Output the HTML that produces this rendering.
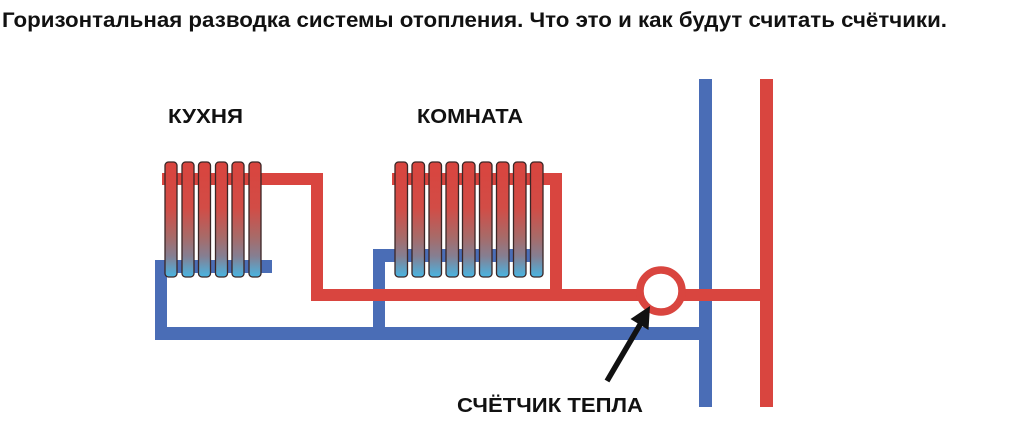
<!DOCTYPE html>
<html>
<head>
<meta charset="utf-8">
<style>
html,body{margin:0;padding:0;background:#fff;}
body{width:1024px;height:427px;overflow:hidden;}
svg{display:block;}
</style>
</head>
<body>
<svg width="1024" height="427" viewBox="0 0 1024 427" xmlns="http://www.w3.org/2000/svg">
<defs>
<linearGradient id="g" x1="0" y1="0" x2="0" y2="1">
<stop offset="0" stop-color="#d9443e"/>
<stop offset="0.4" stop-color="#d24c46"/>
<stop offset="0.65" stop-color="#a86a68"/>
<stop offset="0.82" stop-color="#857f92"/>
<stop offset="1" stop-color="#49b5e2"/>
</linearGradient>
</defs>
<text x="2" y="27" font-family="'Liberation Sans','Noto Sans CJK SC',sans-serif" font-weight="bold" font-size="21" fill="#111" textLength="945" lengthAdjust="spacingAndGlyphs">Горизонтальная разводка системы отопления. Что это и как будут считать счётчики.</text>

<!-- blue pipes -->
<g fill="#4a6db6">
<rect x="155" y="260" width="117" height="13"/>
<rect x="155" y="260" width="12" height="80"/>
<rect x="155" y="327" width="557" height="13"/>
<rect x="373" y="249" width="12" height="91"/>
<rect x="373" y="249" width="170" height="13"/>
<rect x="699" y="79" width="13" height="328"/>
</g>
<!-- red pipes -->
<g fill="#d9453f">
<rect x="162" y="173" width="161" height="12"/>
<rect x="311" y="173" width="12" height="128"/>
<rect x="311" y="289" width="462" height="12"/>
<rect x="392" y="173" width="170" height="12"/>
<rect x="550" y="173" width="12" height="128"/>
<rect x="760" y="79" width="13" height="328"/>
</g>
<circle cx="661" cy="291" r="21" fill="#fff" stroke="#d9453f" stroke-width="7.5"/>

<!-- kitchen radiator -->
<g fill="url(#g)" stroke="#3b2626" stroke-width="1.3">
<rect x="165" y="162" width="12" height="115" rx="3.5"/>
<rect x="182" y="162" width="12" height="115" rx="3.5"/>
<rect x="198.5" y="162" width="12" height="115" rx="3.5"/>
<rect x="215.5" y="162" width="12" height="115" rx="3.5"/>
<rect x="232" y="162" width="12" height="115" rx="3.5"/>
<rect x="249" y="162" width="12" height="115" rx="3.5"/>
</g>
<!-- room radiator -->
<g fill="url(#g)" stroke="#3b2626" stroke-width="1.3">
<rect x="395" y="162" width="12.5" height="115" rx="3.5"/>
<rect x="412" y="162" width="12.5" height="115" rx="3.5"/>
<rect x="429" y="162" width="12.5" height="115" rx="3.5"/>
<rect x="446" y="162" width="12.5" height="115" rx="3.5"/>
<rect x="462.5" y="162" width="12.5" height="115" rx="3.5"/>
<rect x="479.5" y="162" width="12.5" height="115" rx="3.5"/>
<rect x="496.5" y="162" width="12.5" height="115" rx="3.5"/>
<rect x="513.5" y="162" width="12.5" height="115" rx="3.5"/>
<rect x="530.5" y="162" width="12.5" height="115" rx="3.5"/>
</g>

<!-- arrow -->
<line x1="607" y1="381" x2="641" y2="323" stroke="#111" stroke-width="5.5"/>
<polygon points="650,306 630.5,319 648.5,330" fill="#111"/>

<g font-family="'Liberation Sans','Noto Sans CJK SC',sans-serif" font-weight="bold" font-size="20.5" fill="#111">
<text x="168" y="123" textLength="75" lengthAdjust="spacingAndGlyphs">КУХНЯ</text>
<text x="417" y="123" textLength="106" lengthAdjust="spacingAndGlyphs">КОМНАТА</text>
<text x="457" y="412" textLength="186" lengthAdjust="spacingAndGlyphs">СЧЁТЧИК ТЕПЛА</text>
</g>
</svg>
</body>
</html>
